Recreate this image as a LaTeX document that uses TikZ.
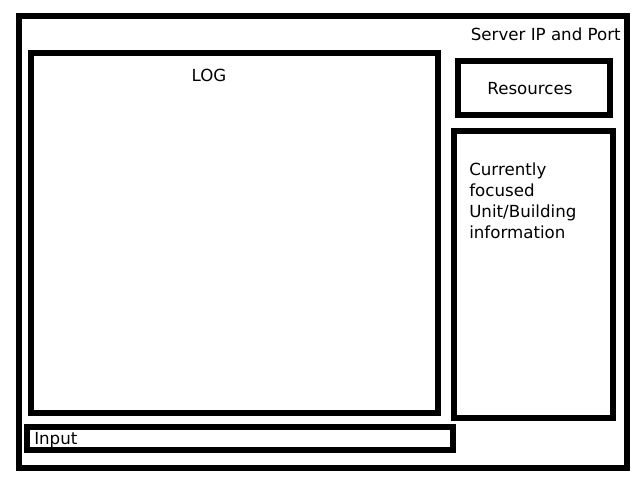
\documentclass[tikz,border=0pt]{standalone}
\usepackage{fontspec}
\setmainfont{DejaVu Sans}
\begin{document}
\begin{tikzpicture}[x=0.75pt,y=-0.75pt,
  frame/.style={draw=black,line width=4.5pt,fill=none},
  lbl/.style={font=\fontsize{12.5pt}{15.75pt}\selectfont,inner sep=0pt}]
\useasboundingbox (0,0) rectangle (640,480);
\draw[frame] (19,16) rectangle (627,468);
\draw[frame] (31,53) rectangle (437.5,413);
\draw[frame] (457.5,61) rectangle (609.5,115);
\draw[frame] (453.5,131) rectangle (612.5,418);
\draw[frame] (26.5,427) rectangle (453,450);
\node[lbl,anchor=base east] (srv) at (621,40) {Server IP and Port};
\node[lbl,anchor=base] (log) at (209,81) {LOG};
\node[lbl,anchor=base] (res) at (530,94) {Resources};
\node[lbl,anchor=base west,align=left] (info) at (469,238) {Currently\\focused\\Unit/Building\\information};
\node[lbl,anchor=base west] (inp) at (34,444) {Input};
\end{tikzpicture}
\end{document}
